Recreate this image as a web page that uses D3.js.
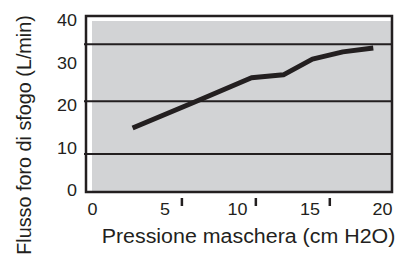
<!DOCTYPE html>
<html>
<head>
<meta charset="utf-8">
<script src="https://cdn.jsdelivr.net/npm/d3@7"></script>
<style>
  body { margin: 0; background: #fff; }
  text { font-family: "Liberation Sans", Arial, sans-serif; fill: #231f20; }
</style>
</head>
<body>
<div id="chart"></div>
<script>
// pressure (cm H2O) vs leak flow (L/min)
var pressure = [2.8, 7, 11, 13.2, 15.2, 17.3, 19.4];
var flow = [14.6, 20.6, 26.4, 27.1, 30.8, 32.5, 33.4];

var xTicks = [0, 5, 10, 15, 20];
var yTicks = [0, 10, 20, 30, 40];
var gridValues = [8.5, 20.9, 34.3];   // horizontal rules inside the plot
var tickMarks = [6.2, 11.3, 16.4];    // small marks under the frame

var width = 396, height = 267;
var frame = {left: 86, top: 16, right: 392, bottom: 192};

var xScale = d3.scaleLinear()
  .domain([0, 20])
  .range([92, 382]);

var yScale = d3.scaleLinear()
  .domain([0, 40])
  .range([190, 20]);

var svg = d3.select("#chart").append("svg")
  .attr("width", width)
  .attr("height", height);

// plot background, white gap on left and top
svg.append("rect")
  .attr("x", frame.left + 6)
  .attr("y", frame.top + 5)
  .attr("width", frame.right - frame.left - 6)
  .attr("height", frame.bottom - frame.top - 5)
  .attr("fill", "#d2d3d5");

// grid rules
svg.selectAll(".grid")
  .data(gridValues)
  .enter()
  .append("line")
  .attr("class", "grid")
  .attr("x1", frame.left - 2)
  .attr("x2", frame.right - 1)
  .attr("y1", function(d) { return yScale(d); })
  .attr("y2", function(d) { return yScale(d); })
  .attr("stroke", "#231f20")
  .attr("stroke-width", 2);

// frame
svg.append("path")
  .attr("d", "M" + frame.left + "," + frame.bottom + "V" + frame.top + "H" + frame.right + "V" + frame.bottom + "Z")
  .attr("fill", "none")
  .attr("stroke", "#231f20")
  .attr("stroke-width", 2.5);

// data line
var line = d3.line()
  .x(function(d, i) { return xScale(pressure[i]); })
  .y(function(d) { return yScale(d); });

svg.append("path")
  .datum(flow)
  .attr("d", line)
  .attr("fill", "none")
  .attr("stroke", "#231f20")
  .attr("stroke-width", 5)
  .attr("stroke-linejoin", "round");

// y axis labels
var yAxis = svg.append("g")
  .attr("transform", "translate(" + (frame.left - 9) + ",0)")
  .call(d3.axisLeft(yScale).tickValues(yTicks).tickSize(0).tickPadding(0));
yAxis.select(".domain").remove();
yAxis.selectAll("text")
  .attr("x", 0)
  .attr("dy", "0.36em")
  .attr("font-size", 16.5)
  .attr("transform", "scale(1.09,1)");

// x axis labels
var xAxis = svg.append("g")
  .attr("transform", "translate(0," + (frame.bottom + 11) + ")")
  .call(d3.axisBottom(xScale).tickValues(xTicks).tickSize(0).tickPadding(0));
xAxis.select(".domain").remove();
xAxis.selectAll("text")
  .attr("y", 0)
  .attr("dy", "0.71em")
  .attr("font-size", 16.5)
  .attr("transform", "scale(1.09,1)");

// tick marks below frame
svg.selectAll(".mark")
  .data(tickMarks)
  .enter()
  .append("line")
  .attr("class", "mark")
  .attr("x1", function(d) { return xScale(d); })
  .attr("x2", function(d) { return xScale(d); })
  .attr("y1", frame.bottom + 6)
  .attr("y2", frame.bottom + 14)
  .attr("stroke", "#231f20")
  .attr("stroke-width", 2.5);

// axis titles
svg.append("text")
  .attr("transform", "translate(248.5,243) scale(1.07,1)")
  .attr("text-anchor", "middle")
  .attr("font-size", 20)
  .text("Pressione maschera (cm H2O)");

svg.append("text")
  .attr("transform", "translate(31,135) rotate(-90)")
  .attr("text-anchor", "middle")
  .attr("font-size", 19.8)
  .text("Flusso foro di sfogo (L/min)");
</script>
</body>
</html>
